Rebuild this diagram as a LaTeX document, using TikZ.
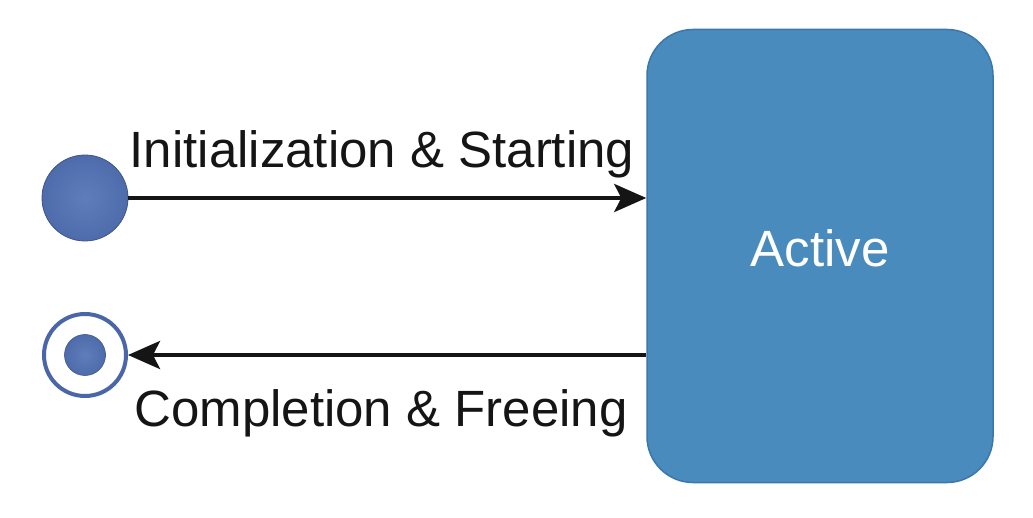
\documentclass[tikz,border=0pt]{standalone}
\usepackage{fontspec}
\setmainfont{Liberation Sans}
\usepackage{tikz}
\usetikzlibrary{arrows.meta,calc}
\definecolor{ink}{HTML}{151515}
\definecolor{ball}{HTML}{4E6CAB}
\definecolor{ballhi}{HTML}{5E7DBA}
\definecolor{ring}{HTML}{4A66A8}
\definecolor{boxfill}{HTML}{4A8BBE}
\definecolor{boxedge}{HTML}{3A77AC}
\tikzset{
  conn/.style={draw=ink, line width=4pt, -{Stealth[length=32pt,width=28pt,inset=7pt]}},
  initst/.style={circle, minimum size=86pt, inner sep=0pt, draw=ball!80!black, line width=0.8pt,
    inner color=ballhi, outer color=ball},
  finalring/.style={circle, minimum size=82pt, inner sep=0pt, draw=ring, line width=4pt, fill=white},
  finaldot/.style={circle, minimum size=41pt, inner sep=0pt, draw=ball!80!black, line width=0.6pt,
    inner color=ballhi, outer color=ball},
  statebox/.style={draw=boxedge, line width=1.5pt, fill=boxfill, rounded corners=46pt,
    minimum width=346pt, minimum height=453pt, inner sep=0pt},
  lab/.style={text=ink, font=\fontsize{51}{61}\selectfont, anchor=base, inner sep=0pt},
  labw/.style={text=white, font=\fontsize{51}{61}\selectfont},
}
\begin{document}
\begin{tikzpicture}[x=1pt,y=-1pt]
  \useasboundingbox (0,0) rectangle (1033,518);
  \node[statebox] (active) at (820,256) {};
  \node[labw] at ($(active.center)+(0,-8)$) {Active};

  \node[initst] (start) at (85,198) {};
  \node[finalring] (final) at (85,355) {};
  \node[finaldot] (finaldot) at (final.center) {};

  \draw[conn] (start.east) -- (start.east -| active.west);
  \draw[conn] (final.east -| active.west) -- (final.east);

  \node[lab] (initlab) at (382,168) {Initialization \& Starting};
  \node[lab] (donelab) at (381,426) {Completion \& Freeing};
\end{tikzpicture}
\end{document}
